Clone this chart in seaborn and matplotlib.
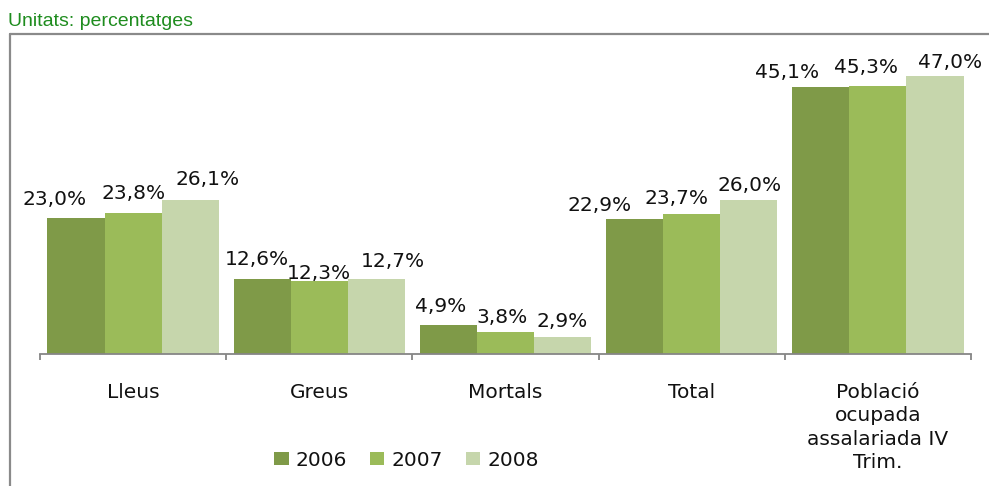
import matplotlib
matplotlib.use("Agg")
import matplotlib.pyplot as plt
import seaborn as sns
import pandas as pd
from matplotlib.lines import Line2D
from matplotlib.patches import Patch

# ---- data ----
categories = ["Lleus", "Greus", "Mortals", "Total", "Població\nocupada\nassalariada IV\nTrim."]
years = ["2006", "2007", "2008"]
v2006 = [23.0, 12.6, 4.9, 22.9, 45.1]
v2007 = [23.8, 12.3, 3.8, 23.7, 45.3]
v2008 = [26.1, 12.7, 2.9, 26.0, 47.0]
title_text = "Unitats: percentatges"

colors = ["#7F9A48", "#9BBB59", "#C6D6AC"]

rows = []
for yr, vals in zip(years, [v2006, v2007, v2008]):
    for c, v in zip(categories, vals):
        rows.append({"cat": c, "year": yr, "val": v})
df = pd.DataFrame(rows)

sns.set_theme(style="white")
plt.rcParams["font.family"] = ["DejaVu Sans"]

fig = plt.figure(figsize=(9.89, 4.86), dpi=100)
ax = fig.add_axes([40 / 989, 1 - 354 / 486, 931 / 989, 295.75 / 486])

sns.barplot(data=df, x="cat", y="val", hue="year", order=categories,
            hue_order=years, palette=colors, width=0.92, saturation=1,
            ax=ax, legend=False, linewidth=0, edgecolor="none")

ax.set_xlim(-0.5, len(categories) - 0.5)
ax.set_ylim(0, 50)
ax.set_xlabel("")
ax.set_ylabel("")
ax.set_yticks([])
for s in ["left", "right", "top"]:
    ax.spines[s].set_visible(False)
ax.spines["bottom"].set_color("#868686")
ax.spines["bottom"].set_linewidth(1.3)

ax.set_xticks(range(len(categories)))
ax.set_xticklabels(categories, fontsize=14.5, color="#111111",
                   linespacing=1.28)
ax.tick_params(axis="x", which="major", length=0, pad=21)
ax.set_xticks([i - 0.5 for i in range(len(categories) + 1)], minor=True)
ax.tick_params(axis="x", which="minor", length=4.5, width=1.3,
               color="#868686", bottom=True)

# data labels (pixel nudges like the original's label placement)
dx = [[-21, 0, 17], [-5, 0, 16], [-8, -3, 0], [-35, -15, 1], [-34, -12, 15]]
dy = [[13, 14, 15], [14, 2, 12], [13, 9, 10], [8, 10, 9], [9, 13, 8]]
for j, cont in enumerate(ax.containers):
    for i, bar in enumerate(cont):
        h = bar.get_height()
        xc = bar.get_x() + bar.get_width() / 2
        ax.annotate(f"{h:.1f}%".replace(".", ","), (xc, h),
                    xytext=(dx[i][j], dy[i][j]), textcoords="offset pixels",
                    ha="center", va="baseline", fontsize=14.5,
                    color="#111111", annotation_clip=False)

handles = [Patch(facecolor=c, edgecolor="none", label=y) for c, y in zip(colors, years)]
fig.legend(handles=handles, loc="center", bbox_to_anchor=(406.5 / 989, 1 - 460 / 486),
           ncol=3, frameon=False, fontsize=14.5, handlelength=0.7,
           handleheight=0.65, handletextpad=0.35, columnspacing=1.15,
           labelcolor="#111111")

# outer frame (left and top border)
fig.add_artist(Line2D([10 / 989, 10 / 989], [0, 1 - 34 / 486],
                      transform=fig.transFigure, color="#8a8a8a", lw=1.6))
fig.add_artist(Line2D([10 / 989, 1], [1 - 34 / 486, 1 - 34 / 486],
                      transform=fig.transFigure, color="#8a8a8a", lw=1.6))

fig.text(8 / 989, 1 - 21 / 486, title_text, color="#1E8C1E", fontsize=14,
         family=["Liberation Sans", "DejaVu Sans"], va="center", ha="left")

fig.savefig("out.png", dpi=100)
